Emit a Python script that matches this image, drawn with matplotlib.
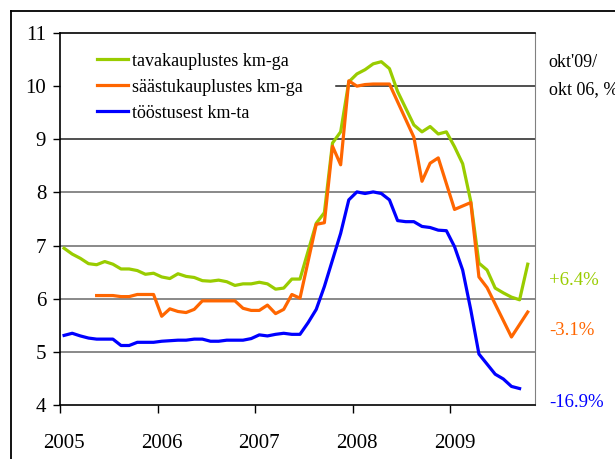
import matplotlib.pyplot as plt
from matplotlib.lines import Line2D
from matplotlib.transforms import blended_transform_factory

plt.rcParams['font.family'] = ['Liberation Serif', 'DejaVu Serif']

# month index: 0 = Jan 2005 ... 57 = Oct 2009
green_m = [0, 1, 2, 3, 4, 5, 6, 7, 8, 9, 10, 11, 12, 13, 14, 15, 16, 17, 18, 19,
           20, 21, 22, 23, 24, 25, 26, 27, 28, 29, 31, 32, 33, 34, 35, 36, 37, 38,
           39, 40, 41, 43, 44, 45, 46, 47, 48, 49, 50, 51, 52, 53, 54, 55, 56, 57]
green_v = [6.95, 6.84, 6.76, 6.66, 6.64, 6.70, 6.65, 6.56, 6.56, 6.53, 6.46, 6.48,
           6.41, 6.38, 6.47, 6.42, 6.40, 6.34, 6.33, 6.35, 6.32, 6.25, 6.28, 6.28,
           6.31, 6.28, 6.18, 6.20, 6.37, 6.37, 7.42, 7.62, 8.93, 9.14, 10.08, 10.23,
           10.31, 10.42, 10.46, 10.33, 9.90, 9.27, 9.14, 9.24, 9.10, 9.14, 8.86,
           8.54, 7.83, 6.67, 6.54, 6.20, 6.11, 6.03, 5.98, 6.65]

orange_m = [4, 5, 6, 7, 8, 9, 10, 11, 12, 13, 14, 15, 16, 17, 18, 19, 20, 21, 22,
            23, 24, 25, 26, 27, 28, 29, 31, 32, 33, 34, 35, 36, 37, 38, 39, 40, 43,
            44, 45, 46, 48, 50, 51, 52, 55, 57]
orange_v = [6.06, 6.06, 6.06, 6.04, 6.04, 6.08, 6.08, 6.08, 5.67, 5.81, 5.76, 5.74,
            5.80, 5.96, 5.96, 5.96, 5.96, 5.96, 5.82, 5.78, 5.78, 5.88, 5.72, 5.80,
            6.08, 6.01, 7.40, 7.43, 8.87, 8.52, 10.10, 10.00, 10.03, 10.04, 10.04,
            10.04, 9.04, 8.21, 8.55, 8.65, 7.68, 7.81, 6.41, 6.21, 5.28, 5.75]

blue_m = list(range(0, 57))
blue_v = [5.31, 5.35, 5.30, 5.26, 5.24, 5.24, 5.24, 5.12, 5.12, 5.18, 5.18, 5.18,
          5.20, 5.21, 5.22, 5.22, 5.24, 5.24, 5.20, 5.20, 5.22, 5.22, 5.22, 5.25,
          5.32, 5.30, 5.33, 5.35, 5.33, 5.33, 5.55, 5.80, 6.23, 6.73, 7.23, 7.86,
          8.01, 7.98, 8.01, 7.98, 7.86, 7.47, 7.45, 7.45, 7.36, 7.34, 7.29, 7.28,
          6.98, 6.54, 5.79, 4.96, 4.77, 4.58, 4.49, 4.35, 4.31]

names = ['tavakauplustes km-ga', 'säästukauplustes km-ga', 'tööstusest km-ta']
colors = ['#99CC00', '#FF6600', '#0000FF']
end_labels = ['+6.4%', '-3.1%', '-16.9%']
end_label_y = [6.35, 5.41, 4.04]
years = ['2005', '2006', '2007', '2008', '2009']

fig = plt.figure(figsize=(6.15, 4.59), dpi=100)
ax = fig.add_axes([0.0976, 0.1176, 0.7724, 0.8105])

# outer frame (only top and left edge visible)
fig.add_artist(Line2D([11 / 615, 1.0], [1 - 11 / 459, 1 - 11 / 459], color='black', lw=1.3))
fig.add_artist(Line2D([11 / 615, 11 / 615], [0, 1 - 11 / 459], color='black', lw=1.3))

# horizontal grid lines
for v in [5, 6, 7, 8]:
    ax.axhline(v, color='#6a6a6a', lw=1.1, zorder=1)
ax.axhline(9, color='#202020', lw=1.1, zorder=1)
ax.axhline(10, xmin=0.58, color='#202020', lw=1.1, zorder=1)

ax.plot(green_m, green_v, color=colors[0], lw=2.3, label=names[0], zorder=3)
ax.plot(orange_m, orange_v, color=colors[1], lw=2.3, label=names[1], zorder=3)
ax.plot(blue_m, blue_v, color=colors[2], lw=2.3, label=names[2], zorder=3)

ax.set_xlim(-0.5, 57.9)
ax.set_ylim(4, 11)
ax.set_yticks(range(4, 12))
ax.tick_params(axis='y', labelsize=15, length=5, width=1, direction='out', pad=5)

ax.set_xticks([-0.5 + 12 * k for k in range(5)])
ax.set_xticklabels([])
ax.set_xticks([12 * k for k in range(5)], minor=True)
ax.set_xticklabels(years, minor=True)
ax.tick_params(axis='x', which='major', length=6, width=1, direction='out')
ax.tick_params(axis='x', which='minor', length=0, labelsize=15, pad=21)

for side in ['left', 'bottom', 'top']:
    ax.spines[side].set_color('black')
    ax.spines[side].set_linewidth(1.2)
ax.spines['right'].set_color('#808080')

ax.legend(loc='upper left', bbox_to_anchor=(0.078, 0.947), frameon=False, fontsize=13,
          handlelength=1.7, handletextpad=0.25, labelspacing=0.5, borderpad=0,
          borderaxespad=0)

# texts right of the plot
ax.text(1.029, 0.92, "okt'09/", transform=ax.transAxes, fontsize=13, va='center', ha='left')
ax.text(1.029, 0.848, "okt 06, %", transform=ax.transAxes, fontsize=13, va='center', ha='left')
trans = blended_transform_factory(ax.transAxes, ax.transData)
for lab, yy, c in zip(end_labels, end_label_y, colors):
    ax.text(1.029, yy, lab, transform=trans, color=c, fontsize=13.5, va='center', ha='left')

fig.savefig('out.png', dpi=100)
